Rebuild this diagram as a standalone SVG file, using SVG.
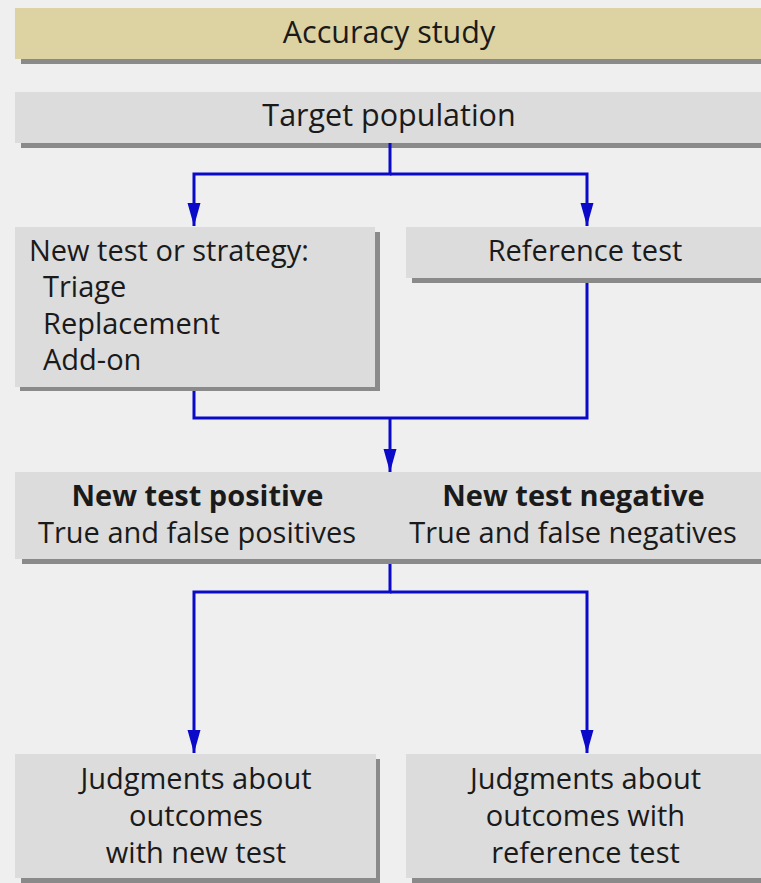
<svg xmlns="http://www.w3.org/2000/svg" width="761" height="883" viewBox="0 0 761 883">
  <style>
    .bg { fill: #efefef; }
    .box { fill: #dcdcdc; }
    .hdr { fill: #ddd2a1; }
    .shadow { fill: #8a8a8a; }
    text { font-family: "Open Sans", "Liberation Sans", sans-serif; font-size: 29px; fill: #1a1a1a; }
    .big { font-size: 30.5px; }
    .c { text-anchor: middle; }
    .b { font-weight: bold; }
    .conn { fill: none; stroke: #0a0ac8; stroke-width: 3; stroke-linejoin: miter; stroke-linecap: butt; }
  </style>
  <defs>
    <marker id="arr" markerUnits="userSpaceOnUse" markerWidth="24" markerHeight="14" refX="23" refY="7" orient="auto" viewBox="0 0 24 14">
      <path d="M0,0.5 L0,13.5 L23,7 Z" fill="#0a0ac8"/>
    </marker>
  </defs>
  <rect class="bg" x="0" y="0" width="761" height="883"/>

  <g id="header">
    <rect class="shadow" x="21" y="14" width="750" height="50"/>
    <rect class="hdr" x="15" y="8" width="756" height="51"/>
    <text class="big c" x="389" y="43">Accuracy study</text>
  </g>

  <g id="target">
    <rect class="shadow" x="21" y="98" width="750" height="50"/>
    <rect class="box" x="15" y="92" width="756" height="51"/>
    <text class="big c" x="389" y="126">Target population</text>
  </g>

  <g id="newtest">
    <rect class="shadow" x="20" y="232" width="360" height="159"/>
    <rect class="box" x="15" y="227" width="360" height="160"/>
    <text x="29" y="261">New test or strategy:</text>
    <text x="43" y="297">Triage</text>
    <text x="43" y="334">Replacement</text>
    <text x="43" y="370">Add-on</text>
  </g>

  <g id="reference">
    <rect class="shadow" x="412" y="233" width="360" height="50"/>
    <rect class="box" x="406" y="227" width="366" height="51"/>
    <text class="c" x="585" y="261">Reference test</text>
  </g>

  <g id="results">
    <rect class="shadow" x="22" y="478" width="750" height="86"/>
    <rect class="box" x="15" y="472" width="756" height="87"/>
    <text class="c b" x="197.5" y="506">New test positive</text>
    <text class="c" x="197" y="543">True and false positives</text>
    <text class="c b" x="573.5" y="506">New test negative</text>
    <text class="c" x="573" y="543">True and false negatives</text>
  </g>

  <g id="judg-new">
    <rect class="shadow" x="21" y="759" width="359" height="124"/>
    <rect class="box" x="15" y="754" width="361" height="124"/>
    <text class="c" x="196" y="789">Judgments about</text>
    <text class="c" x="196" y="826">outcomes</text>
    <text class="c" x="196" y="863">with new test</text>
  </g>

  <g id="judg-ref">
    <rect class="shadow" x="412" y="759" width="360" height="124"/>
    <rect class="box" x="406" y="754" width="366" height="124"/>
    <text class="c" x="585.5" y="789">Judgments about</text>
    <text class="c" x="585.5" y="826">outcomes with</text>
    <text class="c" x="585.5" y="863">reference test</text>
  </g>

  <g id="connectors">
    <path class="conn" d="M390,143 V174 H194 V226" marker-end="url(#arr)"/>
    <path class="conn" d="M390,174 H587 V226" marker-end="url(#arr)"/>
    <path class="conn" d="M194,391 V418 H587 V283"/>
    <path class="conn" d="M390,418 V472" marker-end="url(#arr)"/>
    <path class="conn" d="M390,564 V592 H194 V753" marker-end="url(#arr)"/>
    <path class="conn" d="M390,592 H587 V753" marker-end="url(#arr)"/>
  </g>
</svg>
